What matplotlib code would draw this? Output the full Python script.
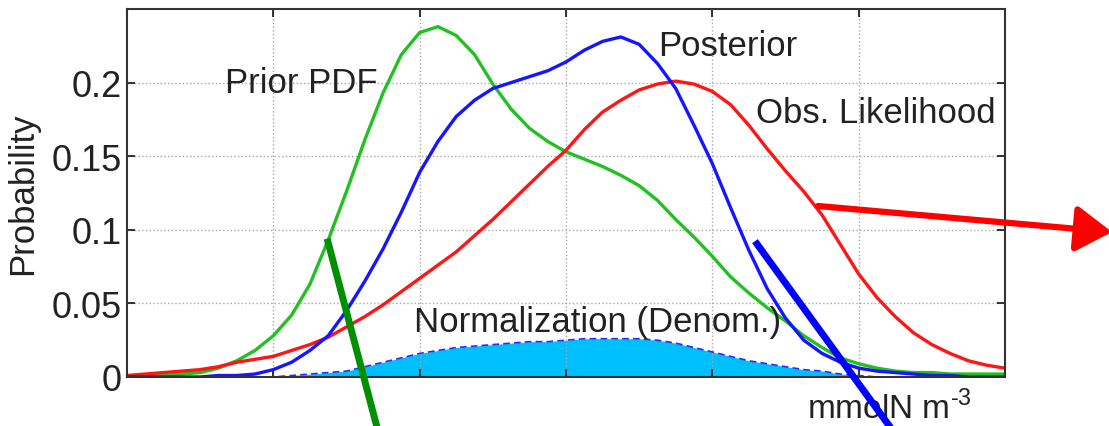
import numpy as np
import matplotlib
matplotlib.use('Agg')
import matplotlib.pyplot as plt
from matplotlib.lines import Line2D
from matplotlib.patches import FancyArrowPatch

plt.rcParams['font.family'] = ['Liberation Sans', 'DejaVu Sans']
plt.rcParams['mathtext.fontset'] = 'custom'
plt.rcParams['mathtext.rm'] = 'Liberation Sans'

# x positions (arbitrary units, 0..6), sampled every 0.125
x = np.arange(49) * 0.125

prior = [0.000, 0.000, 0.001, 0.002, 0.003, 0.006, 0.011, 0.018, 0.028, 0.042,
         0.063, 0.093, 0.126, 0.161, 0.193, 0.219, 0.234, 0.238, 0.232, 0.219,
         0.199, 0.182, 0.169, 0.160, 0.153, 0.148, 0.143, 0.137, 0.130, 0.120,
         0.107, 0.095, 0.082, 0.068, 0.057, 0.047, 0.038, 0.028, 0.020, 0.013,
         0.009, 0.006, 0.004, 0.003, 0.003, 0.002, 0.002, 0.002, 0.002]

posterior = [0.000, 0.000, 0.000, 0.000, 0.000, 0.001, 0.001, 0.002, 0.005, 0.010,
             0.018, 0.028, 0.045, 0.065, 0.087, 0.112, 0.139, 0.160, 0.177, 0.188,
             0.196, 0.200, 0.204, 0.208, 0.214, 0.222, 0.228, 0.231, 0.226, 0.213,
             0.196, 0.171, 0.145, 0.115, 0.086, 0.060, 0.040, 0.025, 0.016, 0.010,
             0.006, 0.004, 0.003, 0.002, 0.001, 0.001, 0.000, 0.000, 0.000]

likelihood = [0.001, 0.002, 0.003, 0.004, 0.005, 0.007, 0.010, 0.012, 0.014, 0.018,
              0.022, 0.027, 0.034, 0.041, 0.049, 0.058, 0.067, 0.076, 0.085, 0.096,
              0.107, 0.119, 0.131, 0.143, 0.154, 0.168, 0.180, 0.188, 0.195, 0.199,
              0.201, 0.199, 0.194, 0.185, 0.171, 0.155, 0.140, 0.126, 0.110, 0.090,
              0.070, 0.054, 0.041, 0.030, 0.022, 0.016, 0.011, 0.008, 0.006]

normalization = [0.000, 0.000, 0.000, 0.000, 0.000, 0.000, 0.000, 0.000, 0.000, 0.001,
                 0.002, 0.003, 0.004, 0.007, 0.010, 0.013, 0.016, 0.018, 0.020, 0.021,
                 0.022, 0.023, 0.024, 0.024, 0.025, 0.026, 0.026, 0.026, 0.026, 0.025,
                 0.023, 0.020, 0.017, 0.014, 0.011, 0.009, 0.007, 0.005, 0.004, 0.002,
                 0.001, 0.000, 0.000, 0.000, 0.000, 0.000, 0.000, 0.000, 0.000]

yticks = [0, 0.05, 0.1, 0.15, 0.2]
ytick_labels = ['0', '0.05', '0.1', '0.15', '0.2']
xticks = [1, 2, 3, 4, 5]

fig = plt.figure(figsize=(11.09, 4.27), dpi=100)
ax = fig.add_axes([0.1145, 0.1148, 0.7917, 0.8618])

# normalization area
ax.fill_between(x, normalization, color='#00bfff', lw=0)
ax.plot(x, normalization, color='#2a2aff', lw=1.2, ls=(0, (4, 2.5)))

ax.plot(x, prior, color='#22c022', lw=2.4, solid_joinstyle='round')
ax.plot(x, likelihood, color='#ff1515', lw=2.4, solid_joinstyle='round')
ax.plot(x, posterior, color='#1515ff', lw=2.4, solid_joinstyle='round')

ax.set_xlim(0, 6)
ax.set_ylim(0, 0.25)
ax.set_xticks(xticks)
ax.set_xticklabels([])
ax.set_yticks(yticks)
ax.set_yticklabels(ytick_labels)
ax.tick_params(direction='in', length=6, width=1.3, top=True, right=True,
               labelsize=26, pad=4, colors='#222222')
ax.grid(True, ls=':', color='#a8a8a8', lw=1.0)
for sp in ax.spines.values():
    sp.set_color('#333333')
    sp.set_linewidth(1.5)

ax.set_ylabel('Probability', fontsize=25, color='#222222', labelpad=9)
ax.set_xlabel(r'mmolN m$^{\text{-3}}$', fontsize=24, color='#222222')
ax.xaxis.set_label_coords(0.868, -0.035)

# curve labels
ax.text(0.67, 0.200, 'Prior PDF', fontsize=25, color='#222222', va='center')
ax.text(3.63, 0.225, 'Posterior', fontsize=25, color='#222222', va='center')
ax.text(4.3, 0.180, 'Obs. Likelihood', fontsize=25, color='#222222', va='center')
ax.text(1.96, 0.038, 'Normalization (Denom.)', fontsize=25, color='#222222', va='center')

# overlay annotation strokes (figure pixel positions)
W, H = 1109.0, 427.0
fig.add_artist(Line2D([328 / W, 378 / W], [1 - 243 / H, 1 - 432 / H],
                      transform=fig.transFigure, color='#008f00', lw=5, clip_on=False))
fig.add_artist(Line2D([757 / W, 893 / W], [1 - 245 / H, 1 - 432 / H],
                      transform=fig.transFigure, color='#0000ff', lw=5, clip_on=False))
arrow = FancyArrowPatch((818 / W, 1 - 207 / H), (1112 / W, 1 - 233 / H),
                        transform=fig.transFigure, arrowstyle='-|>,head_length=22,head_width=14',
                        color='#ff0000', lw=4.5, shrinkA=0, shrinkB=0, mutation_scale=1)
fig.add_artist(arrow)

fig.savefig('out.png', dpi=100)
